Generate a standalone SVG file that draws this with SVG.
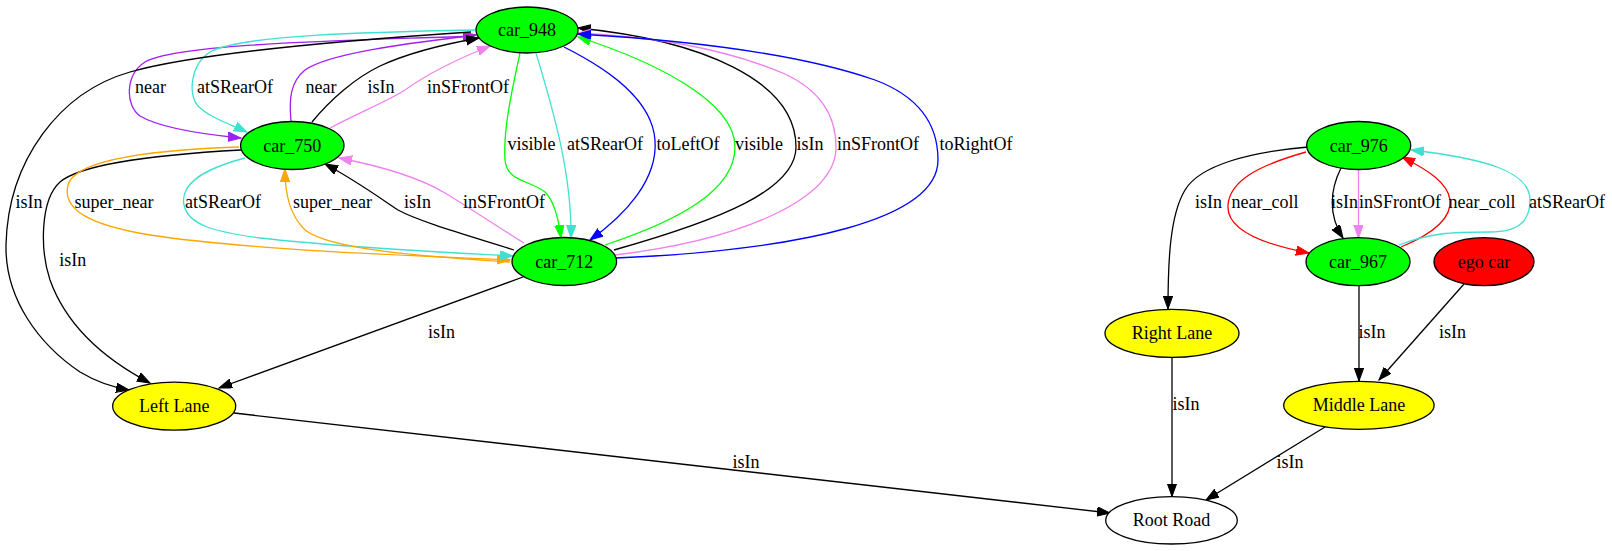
<svg xmlns="http://www.w3.org/2000/svg" width="1612" height="551" viewBox="0 0 1612 551">
<style>
text{font-family:"Liberation Serif","Times New Roman",serif;font-size:18px;text-anchor:middle;fill:#000}
.n ellipse{stroke:#000;stroke-width:1.3}
.e path{fill:none;stroke-width:1.3}
.k{stroke:#000}.pu{stroke:#a020f0}.tq{stroke:#40e0d0}.vi{stroke:#ee82ee}.gr{stroke:#00ff00}.bl{stroke:#0000ff}.or{stroke:#ffa500}.rd{stroke:#ff0000}
.k{marker-end:url(#ak)}.pu{marker-end:url(#apu)}.tq{marker-end:url(#atq)}.vi{marker-end:url(#avi)}.gr{marker-end:url(#agr)}.bl{marker-end:url(#abl)}.or{marker-end:url(#aor)}.rd{marker-end:url(#ard)}
</style>
<defs>
<marker id="ak" markerUnits="userSpaceOnUse" markerWidth="15" markerHeight="12" refX="13" refY="4.7" orient="auto"><path d="M0,0 L13,4.7 L0,9.4 Z" fill="#000" stroke="#000"/></marker>
<marker id="apu" markerUnits="userSpaceOnUse" markerWidth="15" markerHeight="12" refX="13" refY="4.7" orient="auto"><path d="M0,0 L13,4.7 L0,9.4 Z" fill="#a020f0" stroke="#a020f0"/></marker>
<marker id="atq" markerUnits="userSpaceOnUse" markerWidth="15" markerHeight="12" refX="13" refY="4.7" orient="auto"><path d="M0,0 L13,4.7 L0,9.4 Z" fill="#40e0d0" stroke="#40e0d0"/></marker>
<marker id="avi" markerUnits="userSpaceOnUse" markerWidth="15" markerHeight="12" refX="13" refY="4.7" orient="auto"><path d="M0,0 L13,4.7 L0,9.4 Z" fill="#ee82ee" stroke="#ee82ee"/></marker>
<marker id="agr" markerUnits="userSpaceOnUse" markerWidth="15" markerHeight="12" refX="13" refY="4.7" orient="auto"><path d="M0,0 L13,4.7 L0,9.4 Z" fill="#00ff00" stroke="#00ff00"/></marker>
<marker id="abl" markerUnits="userSpaceOnUse" markerWidth="15" markerHeight="12" refX="13" refY="4.7" orient="auto"><path d="M0,0 L13,4.7 L0,9.4 Z" fill="#0000ff" stroke="#0000ff"/></marker>
<marker id="aor" markerUnits="userSpaceOnUse" markerWidth="15" markerHeight="12" refX="13" refY="4.7" orient="auto"><path d="M0,0 L13,4.7 L0,9.4 Z" fill="#ffa500" stroke="#ffa500"/></marker>
<marker id="ard" markerUnits="userSpaceOnUse" markerWidth="15" markerHeight="12" refX="13" refY="4.7" orient="auto"><path d="M0,0 L13,4.7 L0,9.4 Z" fill="#ff0000" stroke="#ff0000"/></marker>
</defs>
<rect x="0" y="0" width="1612" height="551" fill="#fff"/>
<g id="edges" class="e">
<path class="pu" d="M474,36 C380,40 180,42 145,62 C125,75 125,105 140,116 C160,128 200,134 241,138"/>
<path class="tq" d="M475,30 C370,32 240,35 210,52 C190,65 188,95 198,106 C210,118 230,124 247,132"/>
<path class="pu" d="M291,121 C289,100 290,82 305,70 C330,52 420,42 476,35"/>
<path class="k" d="M312,122 C330,100 355,78 380,66 C410,52 445,44 479,38"/>
<path class="vi" d="M330,128 C360,112 390,100 405,90 C430,72 460,58 490,46"/>
<path class="gr" d="M520,53 C512,90 503,130 505,160 C507,182 530,180 545,192 C555,202 559,222 561,238"/>
<path class="tq" d="M536,53 C550,100 572,170 571,238"/>
<path class="bl" d="M564,47 C610,70 652,100 655,140 C658,180 625,215 590,240"/>
<path class="gr" d="M605,245 C680,220 735,190 735,147 C735,100 650,60 578,37"/>
<path class="k" d="M614,250 C720,220 796,190 796,147 C796,80 700,40 578,28"/>
<path class="vi" d="M615,255 C740,240 836,200 836,147 C836,110 815,88 785,74 C720,46 640,36 578,33"/>
<path class="bl" d="M616,258 C800,250 938,220 938,160 C938,120 915,95 875,80 C795,52 680,40 578,34"/>
<path class="k" d="M471,32 C350,40 200,52 130,72 C60,92 8,160 6,245 C5,300 40,345 80,372 C95,381 112,387 129,390"/>
<path class="k" d="M241,150 C150,155 80,165 60,182 C40,200 40,250 50,280 C68,330 110,362 150,383"/>
<path class="or" d="M239,147 C150,150 75,160 68,185 C62,210 90,225 150,235 C250,250 400,255 510,260"/>
<path class="tq" d="M245,158 C200,170 180,185 184,205 C188,225 215,232 260,238 C350,248 440,252 513,256"/>
<path class="or" d="M510,262 C430,257 330,250 305,230 C290,215 285,195 285,169"/>
<path class="k" d="M514,250 C470,236 420,222 398,210 C380,198 355,180 325,164"/>
<path class="vi" d="M524,243 C495,225 465,205 445,193 C420,178 380,166 339,158"/>
<path class="k" d="M523,277 L219,388"/>
<path class="k" d="M234,413 L1110,513"/>
<path class="k" d="M1308,147 C1250,152 1200,165 1185,190 C1170,215 1168,260 1168,309"/>
<path class="rd" d="M1306,152 C1260,165 1230,180 1228,205 C1226,230 1262,244 1309,253"/>
<path class="k" d="M1341,168 C1330,190 1328,215 1343,238"/>
<path class="vi" d="M1358.5,170 L1358.5,238"/>
<path class="rd" d="M1401,247 C1430,235 1452,220 1450,200 C1448,183 1428,170 1402,157"/>
<path class="tq" d="M1399,245 C1430,233 1450,232 1490,232 C1520,232 1530,220 1530,200 C1530,170 1480,158 1411,150"/>
<path class="k" d="M1359,286 L1359,381"/>
<path class="k" d="M1464,284 L1379,380"/>
<path class="k" d="M1172,357 L1172,496.5"/>
<path class="k" d="M1325,427 L1206,500"/>
</g>
<g id="edge-labels">
<text x="150.6" y="92.5">near</text>
<text x="235" y="92.5">atSRearOf</text>
<text x="321" y="92.5">near</text>
<text x="381" y="92.5">isIn</text>
<text x="468" y="92.5">inSFrontOf</text>
<text x="531.6" y="150">visible</text>
<text x="605" y="150">atSRearOf</text>
<text x="688" y="150">toLeftOf</text>
<text x="759" y="150">visible</text>
<text x="810" y="150">isIn</text>
<text x="878" y="150">inSFrontOf</text>
<text x="976" y="150">toRightOf</text>
<text x="29" y="208">isIn</text>
<text x="114" y="208">super_near</text>
<text x="223" y="208">atSRearOf</text>
<text x="332.5" y="208">super_near</text>
<text x="417.6" y="208">isIn</text>
<text x="504" y="208">inSFrontOf</text>
<text x="72.8" y="266">isIn</text>
<text x="441.5" y="337.5">isIn</text>
<text x="746" y="468">isIn</text>
<text x="1208.6" y="208">isIn</text>
<text x="1265" y="208">near_coll</text>
<text x="1344.5" y="208">isIn</text>
<text x="1400" y="208">inSFrontOf</text>
<text x="1482" y="208">near_coll</text>
<text x="1567" y="208">atSRearOf</text>
<text x="1372" y="338">isIn</text>
<text x="1452.6" y="338">isIn</text>
<text x="1186" y="410">isIn</text>
<text x="1290" y="468">isIn</text>
</g>
<g id="car_948" class="n"><ellipse cx="527" cy="30" rx="51" ry="23" fill="#00ff00"/><text x="527" y="36">car_948</text></g>
<g id="car_750" class="n"><ellipse cx="292.3" cy="145.5" rx="51.7" ry="24" fill="#00ff00"/><text x="292.3" y="151.5">car_750</text></g>
<g id="car_712" class="n"><ellipse cx="564.3" cy="261.5" rx="52.3" ry="24" fill="#00ff00"/><text x="564.3" y="267.5">car_712</text></g>
<g id="car_976" class="n"><ellipse cx="1358.7" cy="145.5" rx="52" ry="24" fill="#00ff00"/><text x="1358.7" y="151.5">car_976</text></g>
<g id="car_967" class="n"><ellipse cx="1358" cy="261.7" rx="52" ry="24" fill="#00ff00"/><text x="1358" y="267.7">car_967</text></g>
<g id="ego_car" class="n"><ellipse cx="1484" cy="261.7" rx="50" ry="24" fill="#ff0000"/><text x="1484" y="267.7">ego car</text></g>
<g id="right_lane" class="n"><ellipse cx="1172" cy="333.3" rx="67" ry="24" fill="#ffff00"/><text x="1172" y="339.3">Right Lane</text></g>
<g id="left_lane" class="n"><ellipse cx="174.2" cy="406.2" rx="61.5" ry="24" fill="#ffff00"/><text x="174.2" y="412.2">Left Lane</text></g>
<g id="middle_lane" class="n"><ellipse cx="1358.9" cy="405.3" rx="75.2" ry="24" fill="#ffff00"/><text x="1358.9" y="411.3">Middle Lane</text></g>
<g id="root_road" class="n"><ellipse cx="1171.5" cy="520.3" rx="65.8" ry="23.7" fill="#ffffff"/><text x="1171.5" y="526.3">Root Road</text></g>
</svg>
